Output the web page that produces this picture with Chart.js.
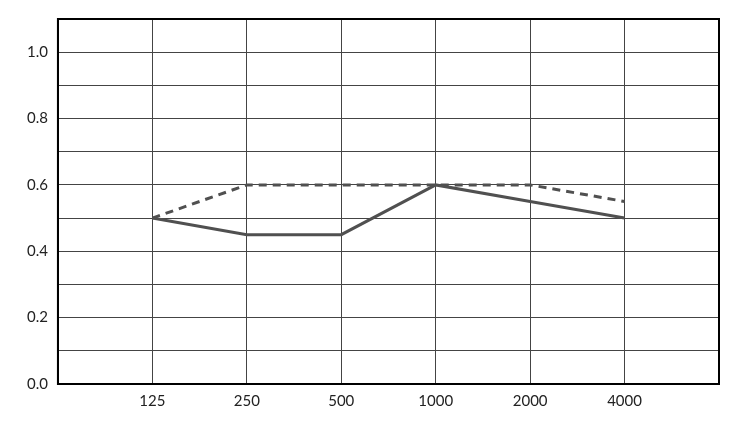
<!DOCTYPE html>
<html><head><meta charset="utf-8">
<script src="https://cdn.jsdelivr.net/npm/chart.js@4/dist/chart.umd.min.js"></script>
<style>html,body{margin:0;padding:0;background:#fff}#w{width:750px;height:421px}</style>
</head><body><div id="w"><canvas id="c"></canvas></div>
<script>
const categories = ['125','250','500','1000','2000','4000'];
const seriesSolid = [0.5,0.45,0.45,0.6,0.55,0.5];
const seriesDashed = [0.5,0.6,0.6,0.6,0.6,0.55];
const yTickLabels = ['0.0','0.2','0.4','0.6','0.8','1.0'];
const pts = a => a.map((v,i)=>({x:i+1,y:v}));
new Chart(document.getElementById('c'),{
  type:'line',
  data:{datasets:[
    {data:pts(seriesSolid),borderColor:'#505050',borderWidth:3,pointRadius:0,tension:0},
    {data:pts(seriesDashed),borderColor:'#505050',borderWidth:3,borderDash:[8,6],pointRadius:0,tension:0}
  ]},
  options:{responsive:true,maintainAspectRatio:false,animation:false,
    layout:{padding:{top:16,right:31,bottom:3,left:17}},
    plugins:{legend:{display:false},tooltip:{enabled:false}},
    scales:{
      x:{type:'linear',min:0,max:7,
        ticks:{stepSize:1,color:'#222',font:{family:'Lato',size:15},padding:8,
          callback:v=>(v>=1&&v<=6)?categories[v-1]:''},
        grid:{color:'#444',lineWidth:1,drawTicks:false},border:{color:'#000',width:2}},
      y:{min:0,max:1.1,
        ticks:{stepSize:0.1,color:'#222',font:{family:'Lato',size:15},padding:10,
          callback:v=>{const k=Math.round(v*10);return (k%2===0&&k<=10)?yTickLabels[k/2]:'';}},
        grid:{color:'#444',lineWidth:1,drawTicks:false},border:{color:'#000',width:2}}
    }
  },
  plugins:[{id:'frame',afterDraw(ch){const a=ch.chartArea,c=ch.ctx;c.save();c.strokeStyle='#000';c.lineWidth=2;c.strokeRect(a.left,a.top,a.right-a.left,a.bottom-a.top);c.restore();}}]
});
</script></body></html>
